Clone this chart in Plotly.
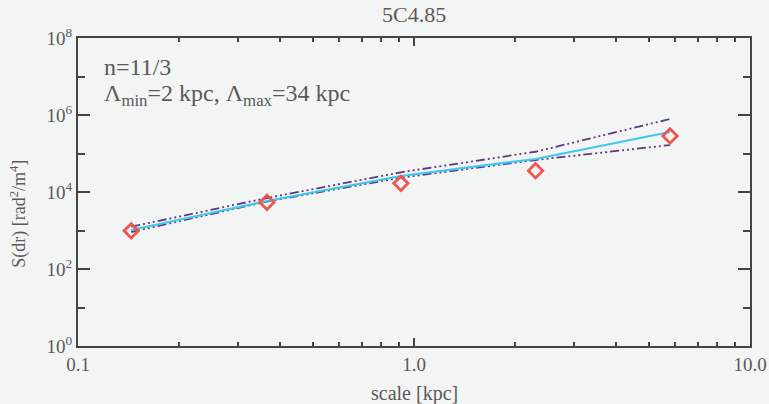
import plotly.graph_objects as go

# data points (diamonds)
scale_kpc = [0.144, 0.365, 0.914, 2.30, 5.78]
s_obs = [980, 5400, 16800, 35700, 285000]

# model curves
model_x = [0.144, 0.365, 0.914, 2.30, 5.78]
model_mid = [1030, 5830, 26000, 72000, 361000]
model_hi = [1255, 6980, 32500, 111000, 787000]
model_lo = [914, 5660, 23500, 67800, 166000]

x_ticks = [0.1, 1.0, 10.0]
x_ticktext = ["0.1", "1.0", "10.0"]
y_ticks = [1, 1e2, 1e4, 1e6, 1e8]
y_ticktext = ["10<sup>0</sup>", "10<sup>2</sup>", "10<sup>4</sup>", "10<sup>6</sup>", "10<sup>8</sup>"]

FONT = "Liberation Serif"
GREY = "#5a5a5a"
PURPLE = "#5e3a7e"
DASH = "9px,3px,2px,3px,2px,3px,2px,3px"

fig = go.Figure()
fig.add_trace(go.Scatter(x=model_x, y=model_hi, mode="lines",
                         line=dict(color=PURPLE, width=1.8, dash=DASH), showlegend=False))
fig.add_trace(go.Scatter(x=model_x, y=model_lo, mode="lines",
                         line=dict(color=PURPLE, width=1.8, dash=DASH), showlegend=False))
fig.add_trace(go.Scatter(x=model_x, y=model_mid, mode="lines",
                         line=dict(color="#3ec8f0", width=2.2), showlegend=False))
fig.add_trace(go.Scatter(x=scale_kpc, y=s_obs, mode="markers",
                         marker=dict(symbol="diamond-open", size=11, color="#f0544c",
                                     line=dict(width=2.8, color="#f0544c")),
                         showlegend=False))

minor_x = [a * b for b in (0.1, 1.0) for a in range(2, 10)]
minor_y = [10, 1e3, 1e5, 1e7]

fig.update_layout(
    width=769, height=404,
    margin=dict(l=78, r=19, t=38, b=58, autoexpand=False),
    paper_bgcolor="#f3f4f4", plot_bgcolor="#f3f4f4",
    font=dict(family=FONT, color=GREY, size=18),
    title=dict(text="5C4.85", x=0.5385, xanchor="center", y=0.965, yanchor="middle",
               font=dict(family=FONT, size=22, color=GREY)),
    xaxis=dict(type="log", range=[-1, 1], tickmode="array", tickvals=x_ticks,
               ticktext=x_ticktext, ticks="inside", ticklen=8, tickwidth=2,
               tickcolor="#444", showline=True, linecolor="#444", linewidth=2,
               mirror="ticks", showgrid=False, zeroline=False, automargin=False,
               tickfont=dict(family=FONT, size=19),
               minor=dict(tickmode="array", tickvals=minor_x, ticks="inside",
                          ticklen=4, tickwidth=1.5, tickcolor="#444", showgrid=False)),
    yaxis=dict(type="log", range=[0, 8], tickmode="array", tickvals=y_ticks,
               ticktext=y_ticktext, ticks="inside", ticklen=12, tickwidth=2,
               tickcolor="#444", showline=True, linecolor="#444", linewidth=2,
               mirror="ticks", showgrid=False, zeroline=False, automargin=False,
               tickfont=dict(family=FONT, size=19),
               minor=dict(tickmode="array", tickvals=minor_y, ticks="inside",
                          ticklen=7, tickwidth=1.5, tickcolor="#444", showgrid=False)),
)

fig.add_annotation(xref="paper", yref="paper", x=-0.089, y=0.43, xanchor="center",
                   yanchor="middle", showarrow=False, textangle=-90,
                   text="S(dr) [rad<sup>2</sup>/m<sup>4</sup>]",
                   font=dict(family=FONT, size=18, color=GREY))
fig.add_annotation(xref="paper", yref="paper", x=0.5, y=-0.155, xanchor="center",
                   yanchor="middle", showarrow=False,
                   text="scale [kpc]", font=dict(family=FONT, size=20, color=GREY))
fig.add_annotation(xref="paper", yref="paper", x=0.036, y=0.905, xanchor="left",
                   yanchor="middle", showarrow=False, align="left",
                   text="n=11/3", font=dict(family=FONT, size=24, color=GREY))
fig.add_annotation(xref="paper", yref="paper", x=0.036, y=0.815, xanchor="left",
                   yanchor="middle", showarrow=False, align="left",
                   text="\u039b<sub>min</sub>=2 kpc, \u039b<sub>max</sub>=34 kpc",
                   font=dict(family=FONT, size=24, color=GREY))

fig.write_html("out.html")
